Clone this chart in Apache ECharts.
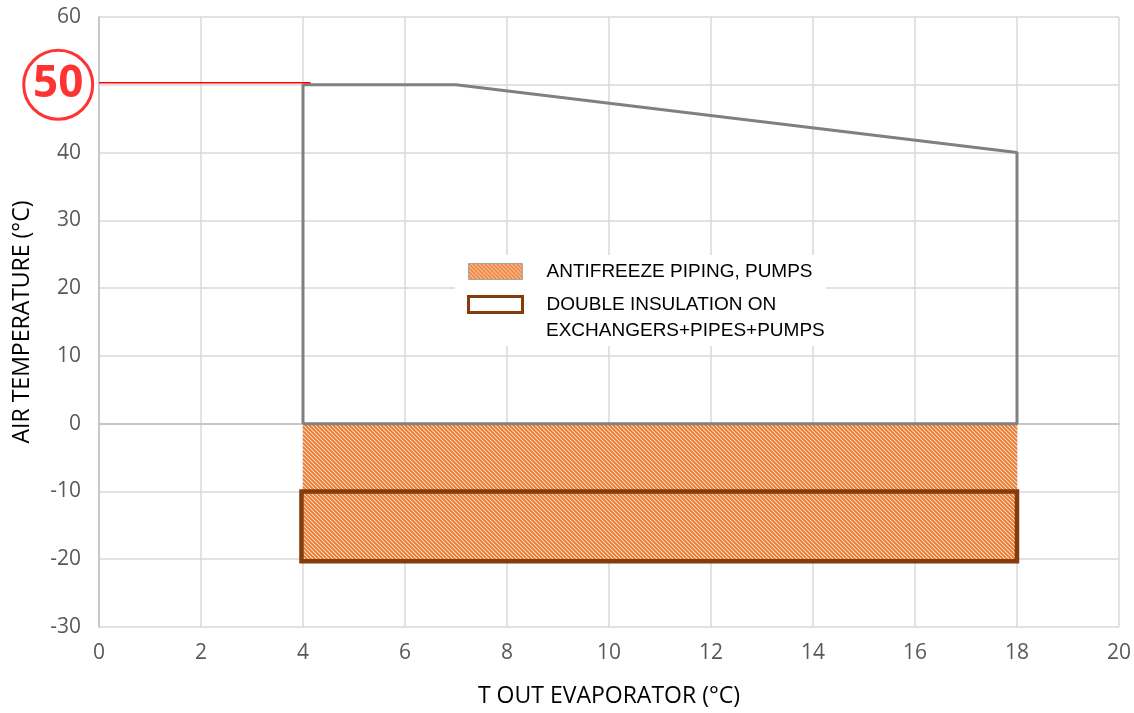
<!DOCTYPE html>
<html>
<head>
<meta charset="utf-8">
<script src="https://cdn.jsdelivr.net/npm/echarts@6/dist/echarts.min.js"></script>
<style>
  html, body { margin: 0; padding: 0; background: #fff; }
  #chart { width: 1134px; height: 713px; }
</style>
</head>
<body>
<div id="chart"></div>
<script>
// Operating envelope outline (T out evaporator, air temperature)
const envelopeX = [4, 4, 7, 18, 18, 4];
const envelopeY = [0, 50, 50, 40, 0, 0];

// Antifreeze zone: x range and y range
const antifreezeX = [4, 18];
const antifreezeY = [0, -20.3];

// Double insulation zone
const insulationX = [3.97, 18];
const insulationY = [-10, -20.3];

// Highlighted maximum air temperature
const maxAirTemp = 50;
const maxLineX = [0, 4.15];
const badgeX = -0.8;

const legendNames = ['ANTIFREEZE PIPING, PUMPS', 'DOUBLE INSULATION ON\nEXCHANGERS+PIPES+PUMPS'];

// Downward diagonal hatch
function makeHatch() {
  const c = document.createElement('canvas');
  c.width = 4; c.height = 4;
  const g = c.getContext('2d');
  g.fillStyle = '#ffffff';
  g.fillRect(0, 0, 4, 4);
  g.strokeStyle = '#ED7D31';
  g.lineWidth = 2.1;
  g.beginPath();
  g.moveTo(-1, -1); g.lineTo(5, 5);
  g.moveTo(-1, 3); g.lineTo(1, 5);
  g.moveTo(3, -1); g.lineTo(5, 1);
  g.stroke();
  return { image: c, repeat: 'repeat' };
}
const hatch = makeHatch();

function rectRender(xs, ys, style) {
  return function (params, api) {
    const p1 = api.coord([xs[0], ys[0]]);
    const p2 = api.coord([xs[1], ys[1]]);
    return {
      type: 'rect',
      shape: {
        x: Math.min(p1[0], p2[0]), y: Math.min(p1[1], p2[1]),
        width: Math.abs(p2[0] - p1[0]), height: Math.abs(p2[1] - p1[1])
      },
      style: style
    };
  };
}

const chart = echarts.init(document.getElementById('chart'));
const uiFont = '"Open Sans", "Noto Sans", sans-serif';
const legendFont = '"Liberation Sans", Arial, sans-serif';
const tickFont = { color: '#595959', fontSize: 21, fontFamily: uiFont };
const legendText = { color: '#000', fontSize: 19, fontFamily: legendFont, padding: [0, 0, 0, 19], lineHeight: 27 };

chart.setOption({
  animation: false,
  grid: { left: 99, right: 15, top: 17, bottom: 85 },
  xAxis: {
    type: 'value', min: 0, max: 20, interval: 2,
    name: 'T OUT EVAPORATOR (°C)', nameLocation: 'middle', nameGap: 58,
    nameTextStyle: { color: '#000', fontSize: 23, fontFamily: uiFont },
    axisLine: { show: true, lineStyle: { color: '#BFBFBF', width: 1.5 } },
    axisTick: { show: false },
    axisLabel: Object.assign({ margin: 16 }, tickFont),
    splitLine: { show: true, lineStyle: { color: '#D9D9D9', width: 1.5 } }
  },
  yAxis: {
    type: 'value', min: -30, max: 60, interval: 10,
    name: 'AIR TEMPERATURE (°C)', nameLocation: 'middle', nameGap: 65, nameRotate: 90,
    nameTextStyle: { color: '#000', fontSize: 23, fontFamily: uiFont },
    axisLine: { show: true, lineStyle: { color: '#BFBFBF', width: 1.5 } },
    axisTick: { show: false },
    axisLabel: Object.assign({ margin: 18, formatter: v => (v === maxAirTemp ? '' : v) }, tickFont),
    splitLine: { show: true, lineStyle: { color: '#D9D9D9', width: 1.5 } }
  },
  graphic: [
    {
      // legend backdrop
      type: 'rect', z: 1, silent: true,
      shape: { x: 455, y: 255, width: 371, height: 91 },
      style: { fill: '#ffffff' }
    },
    {
      // continuation line of the second legend entry
      type: 'text', z: 10, silent: true,
      x: 546, y: 331,
      style: { text: legendNames[1].split('\n')[1], fill: '#000', fontSize: 19, fontFamily: legendFont, verticalAlign: 'middle' }
    }
  ],
  legend: {
    orient: 'vertical',
    left: 455, top: 252,
    padding: [6, 10, 6, 12],
    itemWidth: 54, itemHeight: 16, itemGap: 6,
    textStyle: legendText,
    selectedMode: false,
    formatter: name => name.split('\n')[0],
    data: [
      { name: legendNames[0], icon: 'rect', itemStyle: { color: hatch, borderColor: '#A5A5A5', borderWidth: 1 } },
      { name: legendNames[1], icon: 'rect', itemStyle: { color: '#ffffff', borderColor: '#843C0C', borderWidth: 3 } }
    ]
  },
  series: [
    {
      name: legendNames[0], type: 'custom', z: 2,
      renderItem: rectRender(antifreezeX, antifreezeY, { fill: hatch, stroke: null }),
      data: [[antifreezeX[0], antifreezeY[0]]],
      itemStyle: { color: hatch }
    },
    {
      name: 'envelope', type: 'line', z: 3,
      data: envelopeX.map((x, i) => [x, envelopeY[i]]),
      showSymbol: false, symbol: 'none',
      lineStyle: { color: '#808080', width: 3 }
    },
    {
      name: legendNames[1], type: 'custom', z: 4,
      renderItem: rectRender(insulationX, insulationY, { fill: null, stroke: '#843C0C', lineWidth: 4.5 }),
      data: [[insulationX[0], insulationY[0]]],
      itemStyle: { color: '#843C0C' }
    },
    {
      name: 'max', type: 'line', z: 5,
      data: maxLineX.map(x => [x, maxAirTemp + 0.3]),
      showSymbol: false, symbol: 'none',
      lineStyle: { color: '#FF0000', width: 1.5 }
    },
    {
      name: 'badge', type: 'scatter', z: 6, clip: false,
      data: [[badgeX, maxAirTemp]],
      symbol: 'circle', symbolSize: 69,
      itemStyle: { color: '#ffffff', borderColor: '#FF0000', borderWidth: 3 },
      label: {
        show: true, position: 'inside', formatter: String(maxAirTemp),
        color: '#FF0000', fontSize: 44, fontWeight: 'bold', fontFamily: uiFont
      }
    }
  ]
});
</script>
</body>
</html>
